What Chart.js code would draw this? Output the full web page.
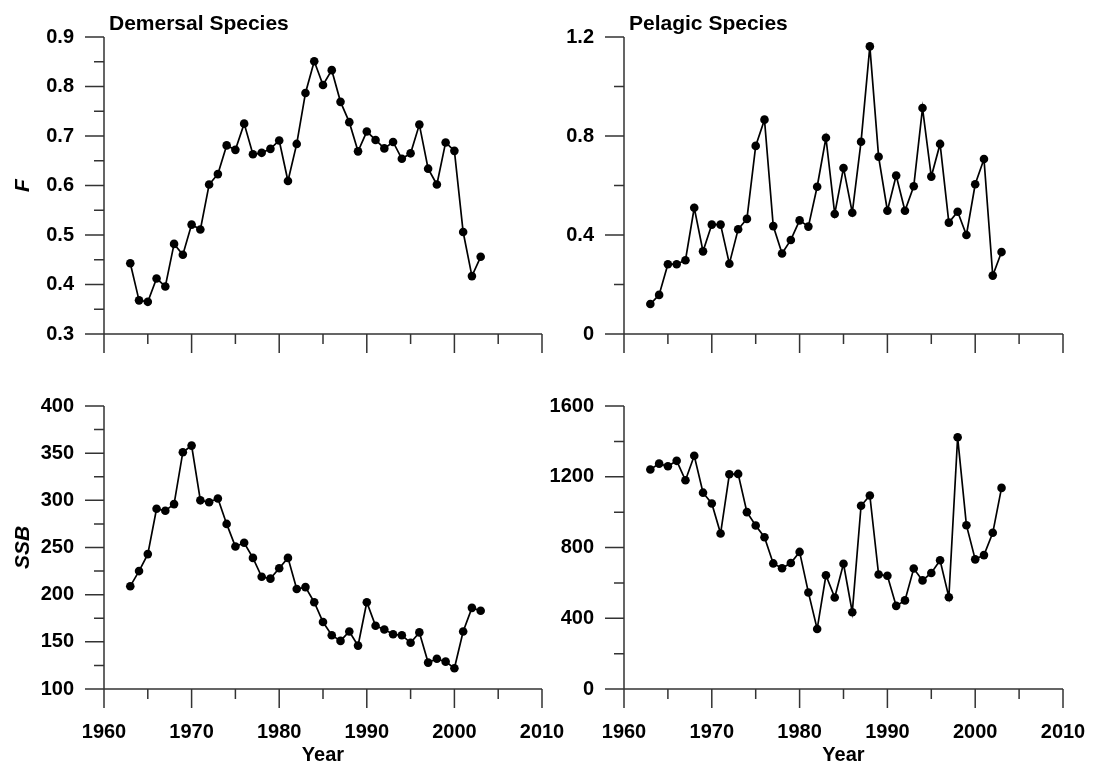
<!DOCTYPE html>
<html>
<head>
<meta charset="utf-8">
<script src="https://cdn.jsdelivr.net/npm/chart.js@4/dist/chart.umd.min.js"></script>
<style>
  html, body { margin: 0; padding: 0; background: #fff; }
  #wrap { position: relative; width: 1098px; height: 767px; overflow: hidden; }
  canvas { position: absolute; }
</style>
</head>
<body>
<div id="wrap">
  <canvas id="fDem"></canvas>
  <canvas id="fPel"></canvas>
  <canvas id="ssbDem"></canvas>
  <canvas id="ssbPel"></canvas>
</div>
<script>
// Assessment years
const years = [1963,1964,1965,1966,1967,1968,1969,1970,1971,1972,1973,1974,1975,1976,1977,1978,1979,1980,
  1981,1982,1983,1984,1985,1986,1987,1988,1989,1990,1991,1992,1993,1994,1995,1996,1997,1998,1999,2000,2001,2002,2003];

// Fishing mortality (F)
const fDemersal = [0.443,0.368,0.365,0.412,0.396,0.482,0.460,0.521,0.511,0.602,0.623,0.681,0.672,0.725,0.663,0.666,0.674,0.691,
  0.609,0.684,0.787,0.851,0.803,0.833,0.769,0.728,0.669,0.709,0.692,0.675,0.688,0.654,0.665,0.723,0.634,0.602,0.687,0.670,0.506,0.417,0.456];
const fPelagic = [0.121,0.158,0.282,0.282,0.298,0.510,0.334,0.442,0.442,0.284,0.423,0.465,0.760,0.866,0.436,0.325,0.380,0.459,
  0.434,0.595,0.793,0.485,0.671,0.490,0.777,1.162,0.716,0.498,0.640,0.498,0.597,0.913,0.636,0.768,0.450,0.494,0.400,0.605,0.707,0.236,0.331];

// Spawning stock biomass (SSB)
const ssbDemersal = [209,225,243,291,289,296,351,358,300,298,302,275,251,255,239,219,217,228,
  239,206,208,192,171,157,151,161,146,192,167,163,158,157,149,160,128,132,129,122,161,186,183];
const ssbPelagic = [1241,1274,1259,1290,1180,1319,1110,1049,879,1214,1216,1000,924,858,710,683,712,775,
  546,339,643,517,708,434,1036,1094,647,640,470,501,681,614,656,728,519,1423,926,733,757,883,1137];

// Panel titles and axis labels
const panelTitles = ['Demersal Species', 'Pelagic Species'];
const yTitles = ['F', 'SSB'];
const xTitle = 'Year';

const FONT = '"Liberation Sans", Arial, Helvetica, sans-serif';
const AXIS_COLOR = '#333';

// Draws axis lines with long (labelled) and short (unlabelled) tick marks,
// plus the panel caption in the upper left of the plot area.
const axisFrame = {
  id: 'axisFrame',
  afterDraw(chart, args, opts) {
    const ctx = chart.ctx;
    const a = chart.chartArea;
    const xs = chart.scales.x, ys = chart.scales.y;
    const isMajor = (v, step) => Math.abs(v / step - Math.round(v / step)) < 1e-6;
    ctx.save();
    ctx.strokeStyle = AXIS_COLOR;
    ctx.lineWidth = 1.5;
    ctx.beginPath();
    ctx.moveTo(a.left, a.top); ctx.lineTo(a.left, a.bottom);
    ctx.moveTo(a.left, a.bottom); ctx.lineTo(a.right, a.bottom);
    xs.ticks.forEach(t => {
      const px = xs.getPixelForValue(t.value);
      const len = isMajor(t.value, opts.xMajor) ? 19 : 10;
      ctx.moveTo(px, a.bottom); ctx.lineTo(px, a.bottom + len);
    });
    ys.ticks.forEach(t => {
      const py = ys.getPixelForValue(t.value);
      const len = isMajor(t.value, opts.yMajor) ? 19 : 10;
      ctx.moveTo(a.left, py); ctx.lineTo(a.left - len, py);
    });
    ctx.stroke();
    if (opts.caption) {
      ctx.fillStyle = '#000';
      ctx.font = 'bold 21px ' + FONT;
      ctx.textAlign = 'left';
      ctx.textBaseline = 'middle';
      ctx.fillText(opts.caption, a.left + 5, 24);
    }
    ctx.restore();
  }
};

function panel(id, box, area, values, cfg) {
  const cv = document.getElementById(id);
  cv.width = box.w; cv.height = box.h;
  cv.style.left = box.x + 'px'; cv.style.top = box.y + 'px';
  cv.style.width = box.w + 'px'; cv.style.height = box.h + 'px';
  const isMajor = (v, step) => Math.abs(v / step - Math.round(v / step)) < 1e-6;
  return new Chart(cv, {
    type: 'line',
    data: {
      datasets: [{
        data: years.map((yr, i) => ({ x: yr, y: values[i] })),
        borderColor: '#000',
        borderWidth: 1.7,
        pointRadius: 4.3,
        pointBackgroundColor: '#000',
        pointBorderColor: '#000',
        pointBorderWidth: 0,
        tension: 0,
        clip: false
      }]
    },
    options: {
      responsive: false,
      animation: false,
      devicePixelRatio: 1,
      layout: { padding: { left: 0, bottom: 0, top: area.top - box.y, right: box.x + box.w - area.right } },
      plugins: {
        legend: { display: false },
        tooltip: { enabled: false },
        axisFrame: { xMajor: 10, yMajor: cfg.yMajor, caption: cfg.caption }
      },
      scales: {
        x: {
          type: 'linear',
          min: 1960, max: 2010,
          grid: { display: true, drawOnChartArea: false, drawTicks: true, tickLength: 19, color: 'rgba(0,0,0,0)' },
          border: { display: false },
          ticks: {
            stepSize: 5, autoSkip: false, maxRotation: 0, padding: 12,
            color: '#000', font: { family: FONT, size: 20, weight: 'bold' },
            callback: v => (cfg.xLabels && isMajor(v, 10)) ? String(v) : ''
          },
          title: {
            display: !!cfg.xLabels, text: xTitle, color: '#000',
            font: { family: FONT, size: 20, weight: 'bold' }, padding: { top: 0, bottom: 0 }
          },
          afterFit: s => { s.height = box.y + box.h - area.bottom; }
        },
        y: {
          type: 'linear',
          min: cfg.yMin, max: cfg.yMax,
          grid: { display: true, drawOnChartArea: false, drawTicks: true, tickLength: 19, color: 'rgba(0,0,0,0)' },
          border: { display: false },
          ticks: {
            stepSize: cfg.yMinor, autoSkip: false, padding: 11,
            color: '#000', font: { family: FONT, size: 20, weight: 'bold' },
            callback: v => isMajor(v, cfg.yMajor) ? String(Math.round(v * 100) / 100) : ''
          },
          title: {
            display: !!cfg.yTitle, text: cfg.yTitle || '', color: '#000',
            font: { family: FONT, size: 21, weight: 'bold', style: 'italic' }, padding: { top: 11, bottom: 0 }
          },
          afterFit: s => { s.width = area.left - box.x; }
        }
      }
    },
    plugins: [axisFrame]
  });
}

// Left panels get a wide transparent margin on the right so the last
// tick label never squeezes the plot area.
panel('fDem', { x: 0, y: 0, w: 610, h: 383 }, { left: 104, top: 37, right: 542, bottom: 334 }, fDemersal,
  { yMin: 0.3, yMax: 0.9, yMinor: 0.05, yMajor: 0.1, yTitle: yTitles[0], caption: panelTitles[0] });
panel('fPel', { x: 549, y: 0, w: 549, h: 383 }, { left: 624, top: 37, right: 1063, bottom: 334 }, fPelagic,
  { yMin: 0, yMax: 1.2, yMinor: 0.2, yMajor: 0.4, caption: panelTitles[1] });
panel('ssbDem', { x: 0, y: 383, w: 610, h: 384 }, { left: 104, top: 393, right: 542, bottom: 689 }, ssbDemersal,
  { yMin: 100, yMax: 400, yMinor: 25, yMajor: 50, yTitle: yTitles[1], xLabels: true });
panel('ssbPel', { x: 549, y: 383, w: 549, h: 384 }, { left: 624, top: 393, right: 1063, bottom: 689 }, ssbPelagic,
  { yMin: 0, yMax: 1600, yMinor: 200, yMajor: 400, xLabels: true });
</script>
</body>
</html>
